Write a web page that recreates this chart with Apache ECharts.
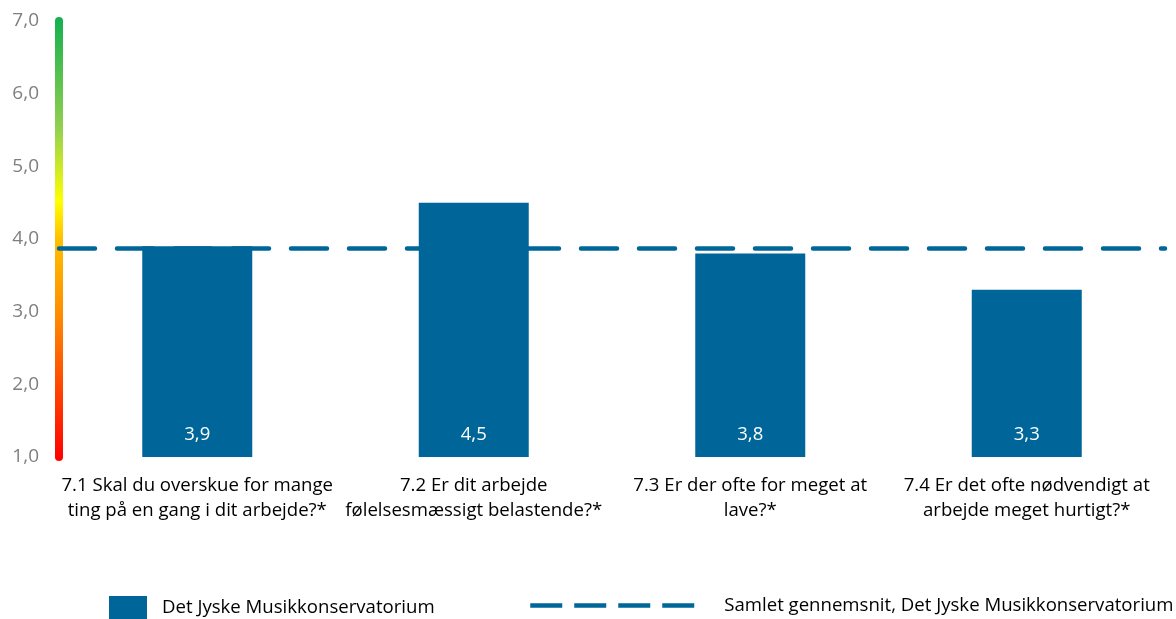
<!DOCTYPE html>
<html>
<head>
<meta charset="utf-8">
<script src="https://cdn.jsdelivr.net/npm/echarts@6/dist/echarts.min.js"></script>
<style>html,body{margin:0;padding:0;background:#fff}#c{width:1176px;height:619px}</style>
</head>
<body>
<div id="c"></div>
<script>
const categories = [
  '7.1 Skal du overskue for mange\nting på en gang i dit arbejde?*',
  '7.2 Er dit arbejde\nfølelsesmæssigt belastende?*',
  '7.3 Er der ofte for meget at\nlave?*',
  '7.4 Er det ofte nødvendigt at\narbejde meget hurtigt?*'
];
const barValues = [3.9, 4.5, 3.8, 3.3];
const averageValue = 3.87;
const yTicks = [1, 2, 3, 4, 5, 6, 7];
const barName = 'Det Jyske Musikkonservatorium';
const lineName = 'Samlet gennemsnit, Det Jyske Musikkonservatorium';

const FONT = 'Open Sans';
const BLUE = '#006699';
const fmt = v => v.toFixed(1).replace('.', ',');

const chart = echarts.init(document.getElementById('c'), null, {renderer: 'canvas'});
chart.setOption({
  animation: false,
  textStyle: {fontFamily: FONT},
  grid: {left: 59, right: 11, top: 21, bottom: 162, containLabel: false},
  legend: [
    {
      data: [barName],
      left: 109, top: 596, padding: 0,
      itemWidth: 38, itemHeight: 24,
      icon: 'rect',
      textStyle: {fontFamily: FONT, fontSize: 18.6, color: '#000', padding: [0, 0, 0, 10]}
    },
    {
      data: [lineName],
      left: 528, top: 596, padding: 0,
      itemWidth: 164, itemHeight: 22,
      itemStyle: {opacity: 0},
      lineStyle: {width: 4.5, color: BLUE},
      textStyle: {fontFamily: FONT, fontSize: 18.6, color: '#000', padding: [0, 0, 0, 25]}
    }
  ],
  xAxis: {
    type: 'category',
    data: categories,
    axisLine: {show: false},
    axisTick: {show: false},
    axisLabel: {
      interval: 0,
      margin: 16,
      fontFamily: FONT,
      fontSize: 18.6,
      lineHeight: 25,
      color: '#000'
    }
  },
  yAxis: {
    type: 'value',
    min: yTicks[0], max: yTicks[yTicks.length - 1], interval: 1,
    splitLine: {show: false},
    axisTick: {show: false},
    axisLine: {
      show: true,
      lineStyle: {
        width: 8,
        color: new echarts.graphic.LinearGradient(0, 1, 0, 0, [
          {offset: 0, color: '#ff0000'},
          {offset: 0.33, color: '#ff8c00'},
          {offset: 0.5, color: '#ffc000'},
          {offset: 0.585, color: '#ffff00'},
          {offset: 0.75, color: '#92d050'},
          {offset: 1, color: '#12b04e'}
        ])
      }
    },
    axisLabel: {
      margin: 20,
      fontFamily: FONT,
      fontSize: 19,
      color: '#7f7f7f',
      formatter: v => fmt(v)
    }
  },
  series: [
    {
      name: barName,
      type: 'bar',
      data: barValues,
      barWidth: 110,
      itemStyle: {color: BLUE},
      label: {
        show: true,
        position: 'insideBottom',
        distance: 13,
        color: '#fff',
        fontFamily: FONT,
        fontSize: 18.5,
        formatter: p => fmt(p.value)
      },
      z: 2
    },
    {
      name: lineName,
      type: 'line',
      data: [],
      symbol: 'none',
      itemStyle: {color: BLUE},
      lineStyle: {color: BLUE, width: 4.5, type: [32, 12], cap: 'butt'},
      markLine: {
        silent: true,
        symbol: 'none',
        label: {show: false},
        lineStyle: {color: BLUE, width: 4.5, type: [36, 22], cap: 'round'},
        data: [{yAxis: averageValue}]
      },
      z: 3
    }
  ]
});
</script>
</body>
</html>
